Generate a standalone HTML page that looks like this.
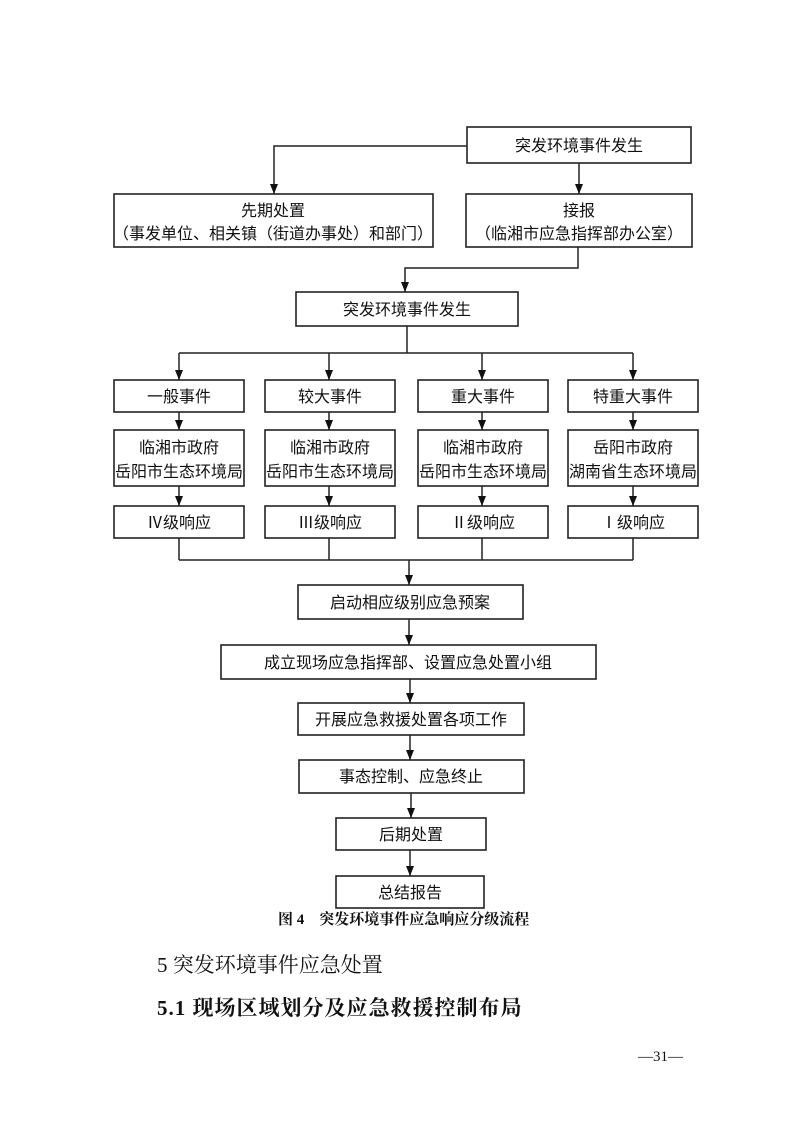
<!DOCTYPE html>
<html><head><meta charset="utf-8"><style>
html,body{margin:0;padding:0;background:#fff;}
svg{display:block;}
text{font-family:"Liberation Sans","Noto Sans CJK SC",sans-serif;fill:#111;}
.s{font-family:"Liberation Serif","Noto Serif CJK SC",serif;}
</style></head><body>
<svg width="793" height="1121" viewBox="0 0 793 1121" xmlns="http://www.w3.org/2000/svg">
<defs>
<marker id="d" viewBox="0 0 8 10" markerWidth="8" markerHeight="10" refX="4" refY="10" orient="0" markerUnits="userSpaceOnUse"><path d="M0,0 L8,0 L4,10 Z" fill="#111"/></marker></defs>
<g fill="none" stroke="#222" stroke-width="1.6">
<rect x="467" y="127" width="224" height="36"/>
<rect x="114" y="194" width="319" height="53"/>
<rect x="466" y="194" width="226" height="53"/>
<rect x="296" y="292" width="222" height="34"/>
<rect x="114" y="380" width="130" height="32"/>
<rect x="265" y="380" width="130" height="32"/>
<rect x="418" y="380" width="130" height="32"/>
<rect x="568" y="380" width="130" height="32"/>
<rect x="114" y="430" width="130" height="56"/>
<rect x="265" y="430" width="130" height="56"/>
<rect x="418" y="430" width="130" height="56"/>
<rect x="568" y="430" width="130" height="56"/>
<rect x="114" y="506" width="130" height="32"/>
<rect x="265" y="506" width="130" height="32"/>
<rect x="418" y="506" width="130" height="32"/>
<rect x="568" y="506" width="130" height="32"/>
<rect x="298" y="585" width="225" height="34"/>
<rect x="221" y="645" width="375" height="34"/>
<rect x="298" y="703" width="226" height="32"/>
<rect x="299" y="760" width="225" height="33"/>
<rect x="336" y="818" width="150" height="32"/>
<rect x="336" y="876" width="148" height="32"/>
</g>
<g fill="none" stroke="#222" stroke-width="1.5">
<path d="M467,146 H274 V194" marker-end="url(#d)"/>
<path d="M579,163 V194" marker-end="url(#d)"/>
<path d="M578,247 V268 H405 V292" marker-end="url(#d)"/>
<path d="M407,326 V353"/>
<path d="M179,353 H633"/>
<path d="M179,353 V380" marker-end="url(#d)"/>
<path d="M329,353 V380" marker-end="url(#d)"/>
<path d="M482,353 V380" marker-end="url(#d)"/>
<path d="M633,353 V380" marker-end="url(#d)"/>
<path d="M179,412 V430" marker-end="url(#d)"/><path d="M329,412 V430" marker-end="url(#d)"/>
<path d="M482,412 V430" marker-end="url(#d)"/><path d="M633,412 V430" marker-end="url(#d)"/>
<path d="M179,486 V506" marker-end="url(#d)"/><path d="M329,486 V506" marker-end="url(#d)"/>
<path d="M482,486 V506" marker-end="url(#d)"/><path d="M633,486 V506" marker-end="url(#d)"/>
<path d="M179,538 V560 M329,538 V560 M482,538 V560 M633,538 V560 M179,560 H633"/>
<path d="M409,560 V585" marker-end="url(#d)"/>
<path d="M409,619 V645" marker-end="url(#d)"/>
<path d="M410,679 V703" marker-end="url(#d)"/>
<path d="M410,735 V760" marker-end="url(#d)"/>
<path d="M411,793 V818" marker-end="url(#d)"/>
<path d="M410,850 V876" marker-end="url(#d)"/>
</g>
<g font-size="16" text-anchor="middle">
<text x="579" y="151">突发环境事件发生</text>
<text x="273" y="216">先期处置</text>
<text x="273" y="239">（事发单位、相关镇（街道办事处）和部门）</text>
<text x="579" y="216">接报</text>
<text x="579" y="239">（临湘市应急指挥部办公室）</text>
<text x="407" y="315">突发环境事件发生</text>
<text x="179" y="402">一般事件</text><text x="330" y="402">较大事件</text>
<text x="483" y="402">重大事件</text><text x="633" y="402">特重大事件</text>
<text x="179" y="453">临湘市政府</text><text x="179" y="477">岳阳市生态环境局</text>
<text x="330" y="453">临湘市政府</text><text x="330" y="477">岳阳市生态环境局</text>
<text x="483" y="453">临湘市政府</text><text x="483" y="477">岳阳市生态环境局</text>
<text x="633" y="453">岳阳市政府</text><text x="633" y="477">湖南省生态环境局</text>
<text x="179" y="528">Ⅳ级响应</text><text x="330" y="528">Ⅲ级响应</text>
<text x="483" y="528">Ⅱ级响应</text><text x="633" y="528">Ⅰ级响应</text>
<text x="410" y="608">启动相应级别应急预案</text>
<text x="408" y="668">成立现场应急指挥部、设置应急处置小组</text>
<text x="411" y="725">开展应急救援处置各项工作</text>
<text x="411" y="782">事态控制、应急终止</text>
<text x="411" y="840">后期处置</text>
<text x="410" y="898">总结报告</text>
</g>
<text class="s" x="278" y="924" font-size="15" font-weight="bold">图 4　突发环境事件应急响应分级流程</text>
<text class="s" x="157" y="972" font-size="21">5 突发环境事件应急处置</text>
<text class="s" x="157" y="1015" font-size="21" font-weight="bold" letter-spacing="1">5.1 现场区域划分及应急救援控制布局</text>
<text class="s" x="638" y="1061" font-size="15">—31—</text>
</svg>
</body></html>
